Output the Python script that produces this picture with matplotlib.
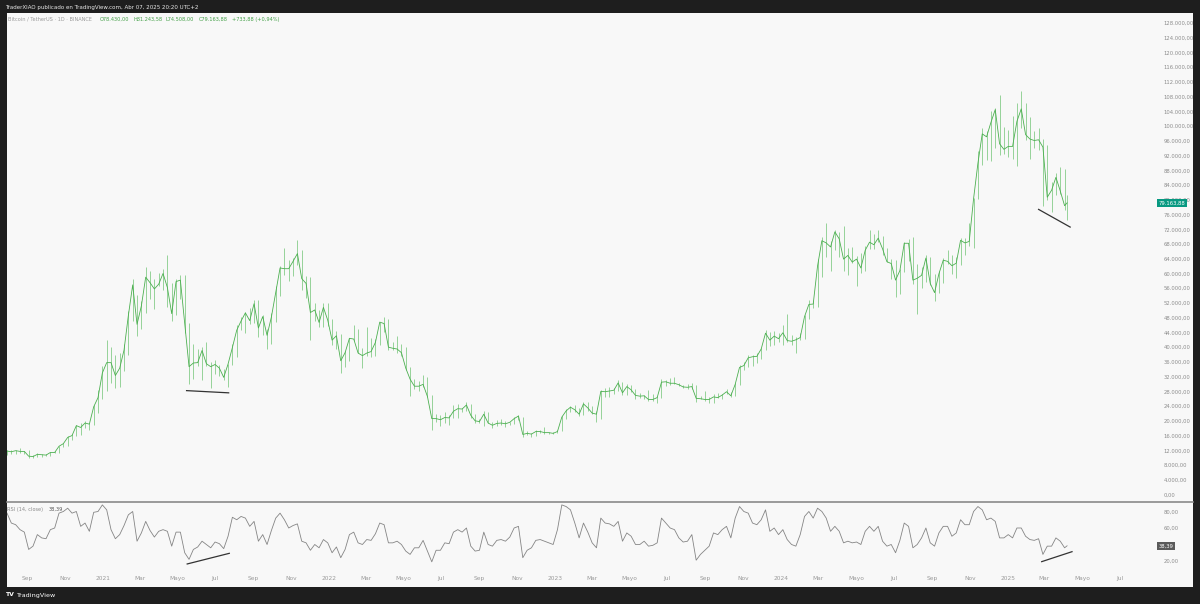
import pandas as pd
import matplotlib
matplotlib.use("Agg")  # kein Display
import matplotlib.pyplot as plt
from matplotlib.lines import Line2D
from matplotlib.patches import Rectangle
from matplotlib.transforms import blended_transform_factory

plt.rcParams['font.family'] = ['DejaVu Sans']

# --- Wochenwerte BTC/USDT (in Tausend), Woche ab Montag ---
close_2020 = [11.8, 11.6, 11.9, 11.7, 11.7, 10.4, 10.3, 10.9, 10.8, 10.7, 11.4, 11.4, 13.1, 13.8,
              15.5, 16.0, 18.7, 18.2, 19.4, 19.1, 23.8, 26.3, 33.0]
high_2020 = [12.1, 12.0, 12.1, 12.5, 11.8, 12.1, 10.6, 11.2, 10.9, 10.9, 11.5, 11.7, 13.3, 14.1,
             15.9, 16.5, 18.9, 19.5, 19.9, 19.4, 24.3, 28.4, 34.8]
low_2020 = [10.6, 10.9, 11.1, 11.4, 11.1, 9.9, 9.9, 10.2, 10.1, 10.4, 10.5, 11.2, 11.3, 12.9,
            13.3, 14.8, 15.8, 16.2, 18.1, 17.6, 19.0, 22.0, 26.0]

close_2021 = [35.8, 35.8, 32.3, 34.3, 39.2, 48.6, 56.9, 46.2, 51.2, 59.0, 57.5, 55.8, 57.1,
              60.0, 56.2, 49.1, 57.8, 58.2, 46.4, 34.7, 35.7, 35.8, 39.1, 35.5, 34.7, 35.3,
              34.3, 31.8, 35.4, 39.9, 44.6, 47.1, 49.3, 47.2, 51.8, 45.2, 48.3, 43.2, 48.2,
              54.9, 61.5, 61.3, 61.3, 63.3, 65.4, 58.6, 57.3, 49.4, 50.1, 46.7, 50.8, 47.3]
high_2021 = [41.9, 40.1, 37.8, 38.5, 40.9, 49.7, 58.4, 54.2, 52.6, 61.8, 60.6, 58.4, 60.2,
             61.3, 64.9, 57.5, 58.5, 59.6, 59.5, 46.6, 40.9, 39.5, 40.0, 41.3, 36.0, 36.6,
             35.1, 34.0, 35.4, 40.9, 46.0, 48.1, 49.5, 50.5, 52.9, 52.9, 48.8, 45.0, 49.2,
             56.6, 62.0, 67.0, 63.7, 64.3, 69.0, 66.4, 59.3, 59.1, 51.9, 50.0, 51.9, 52.1]
low_2021 = [28.1, 30.3, 28.8, 29.2, 33.4, 37.9, 47.0, 43.0, 44.9, 49.3, 53.0, 50.3, 56.6,
            55.4, 51.0, 47.0, 48.8, 53.0, 43.8, 30.0, 31.3, 34.8, 31.0, 34.8, 28.8, 32.7,
            32.1, 31.0, 29.3, 35.2, 37.3, 44.6, 43.9, 46.3, 46.5, 42.8, 43.4, 39.6, 40.8,
            46.9, 53.9, 59.5, 58.0, 59.4, 62.3, 55.6, 53.3, 42.0, 47.1, 45.5, 45.6, 45.7]

close_2022 = [41.9, 43.1, 36.3, 38.5, 42.4, 42.2, 38.4, 37.7, 38.4, 38.8, 41.3, 46.8, 46.4,
              40.0, 39.7, 39.5, 38.5, 34.3, 31.3, 29.4, 29.4, 29.9, 26.6, 20.6, 20.6, 20.3,
              20.9, 20.8, 22.6, 23.3, 23.2, 24.3, 21.5, 20.0, 19.8, 21.8, 19.4, 18.8, 19.3,
              19.4, 19.2, 19.6, 20.6, 21.3, 16.3, 16.6, 16.4, 17.1, 17.1, 16.8, 16.8, 16.6]
high_2022 = [47.6, 44.4, 43.5, 38.9, 42.6, 45.9, 44.8, 39.9, 45.4, 42.4, 42.3, 46.9, 48.2,
             47.7, 41.5, 42.9, 40.8, 40.0, 34.5, 31.4, 30.7, 32.4, 31.8, 26.9, 21.9, 21.5,
             22.4, 21.6, 24.3, 24.7, 23.6, 25.0, 24.5, 21.8, 20.6, 22.8, 22.5, 19.7, 20.3,
             20.5, 19.9, 19.7, 21.0, 21.5, 21.0, 17.2, 16.8, 17.4, 17.4, 18.4, 16.9, 16.9]
low_2022 = [40.5, 39.6, 33.0, 34.5, 36.2, 41.7, 38.3, 34.3, 37.5, 37.2, 37.7, 40.5, 44.2,
            39.2, 39.2, 38.5, 37.7, 33.7, 26.7, 28.6, 28.0, 29.3, 26.6, 17.6, 19.8, 18.7,
            19.3, 19.0, 20.8, 20.7, 22.4, 22.7, 20.8, 19.5, 19.5, 18.6, 19.3, 18.1, 18.5,
            19.0, 18.2, 18.9, 19.2, 20.1, 15.6, 16.2, 15.5, 16.0, 16.7, 16.3, 16.4, 16.3]

close_2023 = [17.1, 21.0, 22.7, 23.7, 23.0, 21.8, 24.6, 23.5, 22.1, 21.8, 28.0, 27.9, 28.1,
              28.3, 30.3, 27.6, 29.3, 28.4, 26.9, 26.7, 26.8, 25.8, 25.8, 26.3, 30.5, 30.6,
              30.2, 30.2, 29.8, 29.2, 29.1, 29.3, 26.1, 26.0, 25.8, 25.8, 26.5, 26.3, 27.0,
              27.9, 26.8, 29.9, 34.5, 35.0, 37.1, 37.4, 37.5, 39.5, 43.8, 41.9, 43.0, 42.3]
high_2023 = [17.4, 21.3, 23.3, 23.9, 24.3, 23.4, 25.2, 25.1, 23.9, 22.6, 28.5, 28.9, 29.2,
             28.8, 31.0, 30.5, 30.0, 29.8, 28.6, 27.5, 27.1, 28.4, 27.4, 26.8, 31.4, 31.2,
             31.5, 31.8, 30.4, 29.6, 30.0, 30.2, 29.7, 26.8, 28.1, 26.5, 27.4, 27.5, 27.3,
             28.6, 27.9, 30.3, 35.2, 35.9, 37.9, 37.9, 38.4, 39.7, 44.7, 44.0, 44.4, 43.8]
low_2023 = [16.6, 17.2, 20.4, 22.3, 22.5, 21.4, 21.5, 22.8, 21.9, 19.6, 20.6, 26.6, 26.6,
            27.2, 28.2, 27.1, 26.9, 27.7, 25.8, 26.3, 25.9, 25.4, 25.3, 24.8, 26.2, 29.5,
            29.7, 30.0, 29.5, 28.9, 28.6, 28.7, 25.2, 25.8, 25.3, 24.9, 24.9, 26.1, 26.0,
            27.2, 26.5, 26.8, 29.8, 33.9, 34.5, 34.8, 35.6, 36.7, 39.3, 40.2, 40.6, 41.3]

close_2024 = [43.9, 41.8, 41.6, 42.0, 42.6, 48.3, 51.6, 51.7, 62.0, 68.9, 68.3, 67.2, 71.3,
              69.4, 63.9, 64.9, 63.1, 63.9, 61.5, 66.3, 68.5, 67.8, 69.6, 66.7, 63.2, 62.7,
              58.2, 60.8, 68.2, 68.2, 58.2, 58.7, 59.5, 64.2, 57.3, 54.8, 59.9, 63.6, 63.3,
              62.1, 62.8, 69.0, 68.3, 68.7, 80.3, 89.9, 97.9, 97.1, 101.0, 104.5, 95.2, 93.7, 94.5]
high_2024 = [45.9, 49.0, 43.2, 42.8, 43.9, 48.6, 52.8, 52.9, 64.0, 70.0, 73.8, 68.9, 71.8,
             71.3, 72.8, 66.9, 67.2, 64.7, 65.5, 67.4, 71.9, 70.6, 71.9, 70.2, 66.8, 64.0,
             63.7, 61.2, 68.5, 69.4, 70.0, 62.7, 61.8, 65.0, 64.5, 59.8, 60.6, 64.1, 66.5,
             64.9, 64.5, 69.5, 69.5, 73.6, 80.5, 93.3, 99.6, 98.7, 104.0, 105.0, 108.4, 99.9, 99.0]
low_2024 = [40.7, 41.5, 40.5, 38.5, 41.9, 42.3, 47.7, 50.5, 50.9, 59.0, 64.5, 60.8, 66.4,
            64.5, 60.7, 59.6, 62.8, 56.5, 60.2, 60.6, 66.6, 66.6, 68.5, 65.0, 63.0, 58.4,
            53.5, 54.3, 60.3, 63.5, 57.1, 49.0, 56.1, 57.8, 56.9, 52.6, 54.6, 57.5, 62.6,
            59.9, 58.9, 62.4, 65.1, 67.5, 66.8, 80.2, 89.4, 90.8, 90.5, 94.2, 92.1, 92.5, 91.5]

close_2025 = [94.5, 101.3, 104.7, 97.7, 96.5, 96.1, 96.3, 94.3, 80.7, 82.6, 86.1, 82.4, 78.4, 79.16388]
high_2025 = [102.7, 106.4, 109.6, 106.4, 102.5, 98.8, 99.5, 96.5, 95.0, 84.9, 87.4, 88.8, 88.5, 81.24358]
low_2025 = [91.2, 89.3, 99.5, 96.2, 91.2, 94.1, 93.4, 78.3, 80.0, 76.6, 81.2, 81.6, 77.2, 74.508]

# --- RSI(14) am Wochenende ---
rsi_2020 = [78, 66, 64, 58, 55, 34, 38, 52, 48, 47, 58, 60, 78, 80, 84, 78, 80, 62, 66, 56, 79, 80, 88]
rsi_2021 = [82, 58, 47, 52, 63, 76, 80, 44, 54, 68, 57, 49, 56, 58, 56, 38, 55, 55, 30, 22, 34, 37,
            44, 40, 36, 43, 41, 35, 50, 73, 70, 74, 72, 62, 68, 44, 52, 40, 57, 72, 78, 70, 60,
            63, 65, 44, 42, 33, 40, 36, 46, 42]
rsi_2022 = [30, 37, 24, 34, 52, 55, 42, 40, 46, 45, 53, 66, 64, 42, 42, 44, 40, 32, 28, 36, 36, 45,
            32, 19, 33, 33, 42, 41, 55, 58, 55, 60, 38, 32, 33, 55, 40, 38, 45, 46, 44, 49, 60,
            62, 24, 33, 36, 45, 46, 44, 42, 40]
rsi_2023 = [58, 88, 86, 82, 66, 48, 66, 55, 42, 36, 72, 66, 65, 62, 68, 44, 54, 50, 40, 40, 44, 38,
            39, 42, 72, 66, 60, 58, 48, 43, 44, 52, 21, 28, 33, 38, 54, 52, 58, 62, 48, 72, 86,
            80, 78, 66, 64, 70, 82, 56, 60, 52]
rsi_2024 = [58, 46, 40, 38, 52, 74, 80, 72, 84, 80, 72, 56, 62, 56, 42, 44, 42, 43, 40, 56, 62, 56,
            62, 44, 38, 40, 30, 45, 66, 62, 36, 40, 48, 60, 42, 38, 54, 62, 62, 50, 54, 70, 64,
            64, 80, 86, 82, 70, 72, 68, 48, 48, 52]
rsi_2025 = [48, 60, 60, 50, 46, 45, 47, 28, 38, 38, 48, 44, 36, 38.39]

# Trendlinien (Datum, Wert)
price_line_a = (["2021-05-16", "2021-07-23"], [28200, 27600])
price_line_b = (["2025-02-20", "2025-04-12"], [77400, 72600])
rsi_line_a = (["2021-05-17", "2021-07-24"], [16.4, 29.3])
rsi_line_b = (["2025-02-25", "2025-04-15"], [19.2, 31.3])

month_ticks = pd.date_range("2020-09-01", "2025-07-01", freq="2MS")
month_names = {1: None, 3: "Mar", 5: "Mayo", 7: "Jul", 9: "Sep", 11: "Nov"}

close = [v * 1000 for v in close_2020 + close_2021 + close_2022 + close_2023 + close_2024 + close_2025]
high = [v * 1000 for v in high_2020 + high_2021 + high_2022 + high_2023 + high_2024 + high_2025]
low = [v * 1000 for v in low_2020 + low_2021 + low_2022 + low_2023 + low_2024 + low_2025]
rsi = rsi_2020 + rsi_2021 + rsi_2022 + rsi_2023 + rsi_2024 + rsi_2025

week_start = pd.date_range("2020-07-27", "2025-04-07", freq="W-MON")
last_day = pd.Timestamp("2025-04-07")
bar_x = week_start + pd.Timedelta(days=3)
bar_x = bar_x.where(bar_x <= last_day, last_day)
assert len(bar_x) == len(close) == len(high) == len(low) == len(rsi)

BG = "#f8f8f8"
FRAME = "#1e1e1e"
GREEN = "#4caf50"
GREEN_LIGHT = "#86cc89"
LABEL = "#8c8c8c"


def eur(v, dec=2):
    s = f"{v:,.{dec}f}"
    return s.replace(",", "X").replace(".", ",").replace("X", ".")


W, H = 1200, 604
fig = plt.figure(figsize=(12, 6.04), dpi=100, facecolor=FRAME)


def fx(px):
    return px / W


def fy(py):
    return 1 - py / H


fig.patches.append(Rectangle((fx(7), fy(587)), fx(1193) - fx(7), fy(13) - fy(587),
                             transform=fig.transFigure, facecolor=BG, edgecolor="none", zorder=-10))

ax = fig.add_axes([fx(7), fy(501), fx(1155) - fx(7), fy(14) - fy(501)])
axr = fig.add_axes([fx(7), fy(573), fx(1155) - fx(7), fy(503) - fy(573)], sharex=ax)

for a in (ax, axr):
    a.set_facecolor("none")
    for s in a.spines.values():
        s.set_visible(False)

# Preis
ax.vlines(bar_x, low, high, color=GREEN_LIGHT, lw=0.6)
ax.plot(bar_x, close, color=GREEN, lw=0.6)
for d, v in (price_line_a, price_line_b):
    ax.plot(pd.to_datetime(d), v, color="#333333", lw=0.9)

ax.set_xlim(pd.Timestamp("2020-07-30"), pd.Timestamp("2025-08-27"))
ax.set_ylim(-1764, 130443)
ax.yaxis.tick_right()
ax.set_yticks(range(0, 128001, 4000))
ax.set_yticklabels([eur(v) for v in range(0, 128001, 4000)])
ax.tick_params(axis="y", length=0, pad=6, labelsize=3.8, labelcolor=LABEL)
ax.tick_params(axis="x", length=0, labelbottom=False)

tr = blended_transform_factory(ax.transAxes, ax.transData)
ax.text(1.0035, close[-1], eur(close[-1]), transform=tr, ha="left", va="center",
        fontsize=3.8, color="white", clip_on=False, zorder=10,
        bbox=dict(boxstyle="square,pad=0.3", fc="#089981", ec="none"))

# RSI
axr.plot(bar_x, rsi, color="#858585", lw=0.6)
for d, v in (rsi_line_a, rsi_line_b):
    axr.plot(pd.to_datetime(d), v, color="#333333", lw=0.9)
axr.set_ylim(5.45, 90.3)
axr.yaxis.tick_right()
axr.set_yticks([20, 60, 80])
axr.set_yticklabels([eur(v) for v in [20, 60, 80]])
axr.tick_params(axis="y", length=0, pad=6, labelsize=3.8, labelcolor=LABEL)
trr = blended_transform_factory(axr.transAxes, axr.transData)
axr.text(1.0035, rsi[-1], eur(rsi[-1]), transform=trr, ha="left", va="center",
         fontsize=3.8, color="white", clip_on=False, zorder=10,
         bbox=dict(boxstyle="square,pad=0.3", fc="#5b5b5b", ec="none"))

axr.set_xticks(month_ticks)
axr.set_xticklabels([month_names[d.month] or str(d.year) for d in month_ticks])
axr.tick_params(axis="x", length=0, pad=2, labelsize=4.2, labelcolor="#9a9a9a")

# Trennlinie zwischen den Panels
fig.add_artist(Line2D([fx(7), fx(1193)], [fy(502), fy(502)], transform=fig.transFigure,
                      color="#8a8a8a", lw=1.2))

# Texte
fig.text(fx(5), fy(7), "TraderXIAO publicado en TradingView.com, Abr 07, 2025 20:20 UTC+2",
         color="#e8e8e8", fontsize=4.0, va="center")
fig.text(fx(8), fy(19), "Bitcoin / TetherUS · 1D · BINANCE", color="#9a9a9a", fontsize=3.6, va="center")
for x0, s in [(100, "O78.430,00"), (133, "H81.243,58"), (166, "L74.508,00"),
              (199, "C79.163,88"), (232, "+733,88 (+0,94%)")]:
    fig.text(fx(x0), fy(19), s, color="#43a047", fontsize=3.6, va="center")
fig.text(fx(7), fy(509), "RSI (14, close)", color="#8a8a8a", fontsize=3.6, va="center")
fig.text(fx(49), fy(509), "38,39", color="#555555", fontsize=3.6, va="center")
fig.text(fx(6), fy(595), "TV", color="white", fontsize=4.4, fontweight="bold", va="center")
fig.text(fx(16), fy(595), "TradingView", color="white", fontsize=4.6, va="center")

fig.savefig("out.png", dpi=100, facecolor=FRAME)
